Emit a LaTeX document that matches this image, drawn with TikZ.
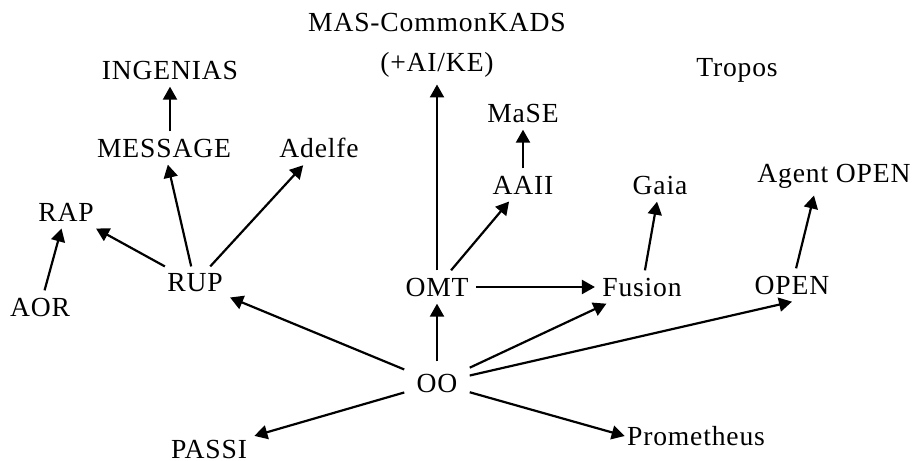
\documentclass[tikz,border=0pt]{standalone}
\usepackage{fontspec}
\setmainfont[LetterSpace=3]{Liberation Serif}
\usetikzlibrary{arrows.meta}

\begin{document}
\begin{tikzpicture}[
  x=0.5pt, y=-0.5pt,
  >={Triangle[length=6.5pt,width=7pt]},
  every node/.style={font=\fontsize{13.8}{20}\selectfont, inner sep=3.5pt},
  meth/.style={align=center},
  arr/.style={->, line width=1.1pt},
]
  \useasboundingbox (0,0) rectangle (918,461);

  % ---------- methodologies ----------
  \node[meth] (mas)   at (437, 45)  {MAS-CommonKADS\\(+AI/KE)};
  \node[meth] (trop)  at (737, 70)  {Tropos};
  \node[meth] (ing)   at (170, 70)  {INGENIAS};
  \node[meth] (msg)   at (164, 148) {MESSAGE};
  \node[meth] (adel)  at (319, 148) {Adelfe};
  \node[meth] (mase)  at (523, 113) {MaSE};
  \node[meth] (aaii)  at (523, 185) {AAII};
  \node[meth] (gaia)  at (660, 185) {Gaia};
  \node[meth] (aopen) at (834, 176) {Agent OPEN};
  \node[meth] (rap)   at (66, 212)  {RAP};
  \node[meth] (aor)   at (40, 307)  {AOR};
  \node[meth] (rup)   at (195, 283) {RUP};
  \node[meth] (omt)   at (437, 287) {OMT};
  \node[meth] (fus)   at (642, 287) {Fusion};
  \node[meth] (open)  at (792, 285) {OPEN};
  \node[meth, inner sep=6pt] (oo) at (437, 383) {OO};
  \node[meth] (passi) at (209, 449) {PASSI};
  \node[meth, inner sep=1pt] (prom) at (696, 436) {Prometheus};

  % ---------- derivations ----------
  \draw[arr] (msg.north -| ing) -- (ing);
  \draw[arr] (rup) -- (msg);
  \draw[arr] (rup) -- (adel);
  \draw[arr] (rup) -- (rap);
  \draw[arr] (aor) -- (rap);
  \draw[arr] (oo) -- (rup);
  \draw[arr] (oo) -- (passi);
  \draw[arr] (oo) -- (omt);
  \draw[arr] (oo) -- (fus);
  \draw[arr] (oo) -- (open.south);
  \draw[arr] (oo) -- (prom.west);
  \draw[arr] (omt) -- (mas);
  \draw[arr] (omt) -- (aaii);
  \draw[arr] (omt) -- (fus);
  \draw[arr] (aaii) -- (mase);
  \draw[arr] (fus) -- (gaia);
  \draw[arr] (open) -- ([xshift=-10pt]aopen.south);
\end{tikzpicture}
\end{document}
